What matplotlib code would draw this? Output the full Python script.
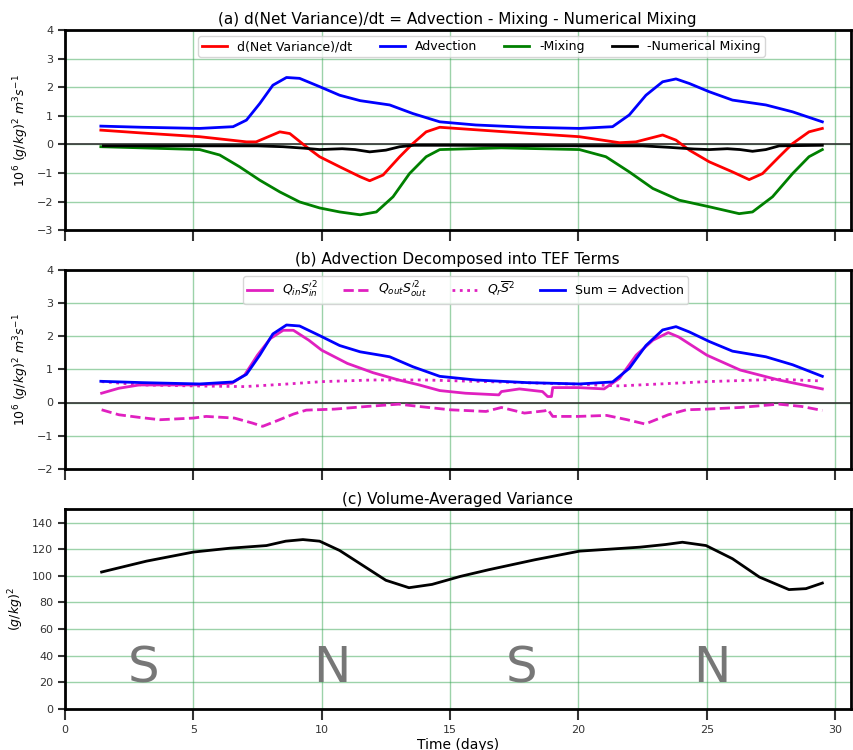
import numpy as np
import matplotlib.pyplot as plt

# ---- panel (a) data ----
t_adv = [1.4, 3, 5.25, 6.55, 7.07, 7.59, 8.1, 8.63, 9.14, 9.92, 10.7, 11.5, 12.65, 13.55, 14.6, 16,
         18, 20.04, 21.33, 21.98, 22.63, 23.28, 23.8, 24.32, 25.1, 26, 27.3, 28.34, 29.5]
adv = [0.64, 0.6, 0.56, 0.62, 0.85, 1.43, 2.07, 2.34, 2.31, 2.02, 1.72, 1.53, 1.38, 1.08, 0.79, 0.68,
       0.6, 0.56, 0.62, 1.03, 1.72, 2.19, 2.29, 2.13, 1.84, 1.55, 1.38, 1.14, 0.79]

t_dvdt = [1.4, 3, 5.25, 7.07, 7.45, 8.37, 8.76, 9.4, 9.92, 10.7, 11.5, 11.87, 12.39, 13.04, 13.55,
          14.07, 14.6, 17, 20.04, 21.6, 22.24, 23.28, 23.8, 24.32, 25.1, 26, 26.65, 27.17, 27.82,
          28.34, 28.98, 29.5]
dvdt = [0.5, 0.4, 0.27, 0.09, 0.09, 0.44, 0.38, -0.08, -0.43, -0.78, -1.13, -1.27, -1.07, -0.43, 0.03,
        0.44, 0.6, 0.45, 0.27, 0.06, 0.09, 0.33, 0.15, -0.2, -0.61, -0.96, -1.23, -1.02, -0.43,
        0.03, 0.44, 0.56]

t_mix = [1.4, 3, 5.25, 6.03, 6.8, 7.59, 8.37, 9.14, 9.92, 10.7, 11.5, 12.13, 12.78, 13.42, 14.07,
         14.6, 17, 20.04, 21.07, 21.98, 22.9, 23.93, 25.1, 26.26, 26.78, 27.56, 28.34, 28.98, 29.5]
mix = [-0.08, -0.12, -0.18, -0.37, -0.78, -1.25, -1.66, -2.01, -2.22, -2.36, -2.46, -2.36, -1.83,
       -1.02, -0.43, -0.18, -0.12, -0.18, -0.43, -0.96, -1.54, -1.95, -2.18, -2.42, -2.36, -1.83,
       -1.02, -0.43, -0.18]

t_num = [1.5, 5, 7.5, 8.5, 9.3, 9.92, 10.8, 11.3, 11.87, 12.5, 13.04, 13.6, 15,
         20, 22.5, 23.5, 24.5, 25.1, 25.8, 26.3, 26.78, 27.3, 27.82, 29.5]
num = [-0.05, -0.05, -0.05, -0.08, -0.13, -0.18, -0.15, -0.18, -0.26, -0.2, -0.08, -0.03, -0.03,
       -0.05, -0.05, -0.1, -0.16, -0.18, -0.15, -0.18, -0.24, -0.18, -0.05, -0.03]

# ---- panel (b) data ----
t_qin = [1.43, 2.1, 2.9, 5, 6.5, 7, 7.5, 8, 8.5, 8.9, 9.5, 10, 11, 12, 13, 13.8, 14.6, 15.6,
         16.9, 17.0, 17.7, 18.6, 18.8, 18.95, 19.0, 20, 21, 21.6, 22.25, 22.9, 23.5, 23.9, 25,
         26.3, 27.8, 29.5]
qin = [0.28, 0.43, 0.53, 0.53, 0.58, 0.83, 1.43, 1.93, 2.18, 2.18, 1.88, 1.58, 1.18, 0.9, 0.68,
       0.53, 0.36, 0.28, 0.23, 0.33, 0.41, 0.33, 0.18, 0.18, 0.45, 0.45, 0.41, 0.73, 1.43, 1.88,
       2.11, 1.98, 1.43, 0.98, 0.68, 0.41]

t_qout = [1.43, 2.1, 2.9, 3.7, 5, 5.5, 6.6, 7.3, 7.7, 8.2, 8.9, 9.4, 10.5, 11.75, 13, 13.8,
          15, 16.4, 17.0, 17.9, 18.7, 18.8, 19, 20, 21.1, 21.9, 22.6, 23.5, 24.2, 25, 26.3,
          27.8, 28.7, 29.5]
qout = [-0.22, -0.37, -0.45, -0.52, -0.47, -0.42, -0.47, -0.62, -0.72, -0.57, -0.35, -0.23,
        -0.2, -0.12, -0.05, -0.12, -0.22, -0.27, -0.15, -0.32, -0.25, -0.2, -0.42, -0.42,
        -0.39, -0.52, -0.65, -0.37, -0.22, -0.2, -0.15, -0.05, -0.12, -0.24]

t_qr = [1.43, 3, 5, 7, 8.5, 10, 12, 14, 16.4, 20, 21.6, 25, 27.8, 29.5]
qr = [0.63, 0.53, 0.5, 0.48, 0.55, 0.63, 0.68, 0.68, 0.63, 0.55, 0.5, 0.63, 0.7, 0.65]

# ---- panel (c) data ----
t_var = [1.43, 3.18, 5, 6.42, 7.85, 8.6, 9.27, 9.92, 10.7, 11.6, 12.5, 13.4, 14.3, 15.4, 16.5,
         18.3, 20.04, 22.4, 23.4, 24.05, 24.97, 26, 27.05, 28.2, 28.86, 29.5]
var = [102.8, 111, 117.8, 120.7, 122.7, 126, 127.2, 126, 119, 107.8, 96.6, 91, 93.5, 99.5, 104.5,
       112, 118.5, 121.5, 123.5, 125.2, 122.7, 112.8, 99, 89.6, 90.3, 94.5]

tide_labels = ['S', 'N', 'S', 'N']
tide_t = [3.05, 10.4, 17.8, 25.2]

fig = plt.figure(figsize=(8.54, 7.5), dpi=100)
ax1 = fig.add_axes([0.076, 0.693, 0.92, 0.267])
ax2 = fig.add_axes([0.076, 0.375, 0.92, 0.265])
ax3 = fig.add_axes([0.076, 0.055, 0.92, 0.266])

grid_kw = dict(color='#3aa655', alpha=0.5, lw=1.0)
ylab = r'$10^6\ (g/kg)^2\ m^3 s^{-1}$'

for ax in (ax1, ax2, ax3):
    ax.set_xlim(0, 30.6)
    ax.set_xticks(np.arange(0, 31, 5))
    ax.grid(True, **grid_kw)
    ax.set_axisbelow(True)
    for s in ax.spines.values():
        s.set_linewidth(2)
    ax.tick_params(axis='x', length=8, width=1.5, labelsize=8, colors='#333333')
    ax.tick_params(axis='y', length=5, width=1.5, labelsize=8, colors='#333333')

# (a)
ax1.axhline(0, color='#333333', lw=1.2)
ax1.plot(t_dvdt, dvdt, color='red', lw=2, label='d(Net Variance)/dt')
ax1.plot(t_adv, adv, color='blue', lw=2, label='Advection')
ax1.plot(t_mix, mix, color='green', lw=2, label='-Mixing')
ax1.plot(t_num, num, color='black', lw=2, label='-Numerical Mixing')
ax1.set_ylim(-3, 4)
ax1.set_yticks(range(-3, 5))
ax1.set_xticklabels([])
ax1.set_ylabel(ylab, fontsize=9)
ax1.set_title('(a) d(Net Variance)/dt = Advection - Mixing - Numerical Mixing', fontsize=11, pad=4)
ax1.legend(loc='upper center', ncol=4, fontsize=9, bbox_to_anchor=(0.53, 1.0),
           handlelength=2, columnspacing=2.2, borderpad=0.3)

# (b)
ax2.axhline(0, color='#333333', lw=1.2)
ax2.plot(t_qin, qin, color='#e020c0', lw=2, label=r'$Q_{in}S_{in}^{\prime 2}$')
ax2.plot(t_qout, qout, color='#e020c0', lw=2, ls='--', label=r'$Q_{out}S_{out}^{\prime 2}$')
ax2.plot(t_qr, qr, color='#e020c0', lw=2, ls=':', label=r'$Q_r\overline{S}^2$')
ax2.plot(t_adv, adv, color='blue', lw=2, label='Sum = Advection')
ax2.set_ylim(-2, 4)
ax2.set_yticks(range(-2, 5))
ax2.set_xticklabels([])
ax2.set_ylabel(ylab, fontsize=9)
ax2.set_title('(b) Advection Decomposed into TEF Terms', fontsize=11, pad=4)
ax2.legend(loc='upper center', ncol=4, fontsize=9, bbox_to_anchor=(0.51, 1.0),
           handlelength=2, columnspacing=2.0, borderpad=0.3)

# (c)
ax3.plot(t_var, var, color='black', lw=2)
ax3.set_ylim(0, 150)
ax3.set_yticks(range(0, 141, 20))
ax3.set_ylabel(r'$(g/kg)^2$', fontsize=9)
ax3.set_xlabel('Time (days)', fontsize=10, labelpad=2)
ax3.set_title('(c) Volume-Averaged Variance', fontsize=11, pad=4)
for lab, tt in zip(tide_labels, tide_t):
    ax3.text(tt, 20, lab, fontsize=36, color='#777777', ha='center', va='baseline')

fig.savefig('out.png', dpi=100)
